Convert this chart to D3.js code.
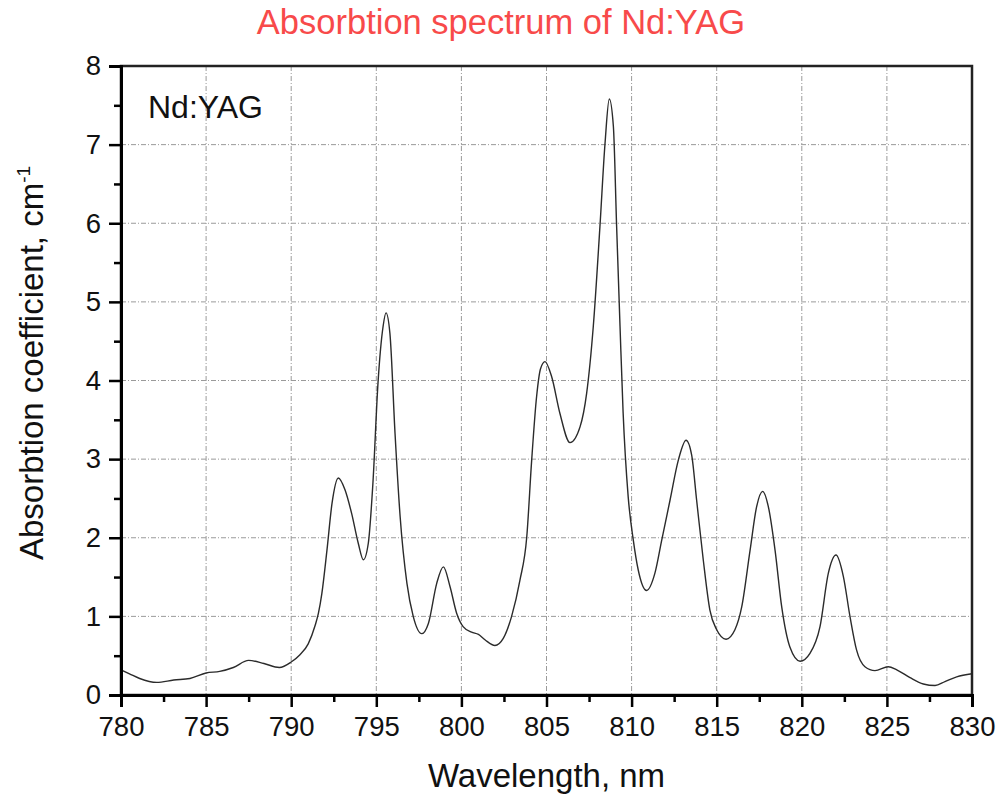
<!DOCTYPE html>
<html>
<head>
<meta charset="utf-8">
<script src="https://cdn.jsdelivr.net/npm/d3@7"></script>
<style>
  body { margin: 0; background: #fff; }
  text { font-family: "Liberation Sans", Arial, Helvetica, sans-serif; }
</style>
</head>
<body>
<div id="chart"></div>
<script>
// wavelength (nm) and absorption coefficient (cm^-1)
const wavelength = [
  780.0, 780.5, 781.1, 782.1, 783.1, 784.05, 785.0, 785.8, 786.6, 787.5,
  788.4, 789.3, 790.0, 790.5, 791.0, 791.4, 791.6, 791.8, 792.1, 792.4,
  792.77, 793.16, 793.55, 793.94, 794.24, 794.53, 794.8, 795.1, 795.4, 795.57,
  795.8, 796.1, 796.4, 796.8, 797.17, 797.67, 798.06, 798.55, 798.94, 799.33,
  799.72, 800.1, 800.6, 801.0, 801.4, 801.97, 802.46, 802.95, 803.44, 803.84,
  804.13, 804.42, 804.65, 804.91, 805.3, 805.79, 806.38, 806.97, 807.36, 807.75,
  808.14, 808.44, 808.69, 808.93, 809.12, 809.32, 809.5, 809.8, 810.1, 810.39,
  810.88, 811.37, 811.77, 812.26, 812.75, 813.2, 813.53, 813.82, 814.21, 814.6,
  815.0, 815.55, 816.07, 816.47, 816.96, 817.35, 817.7, 818.03, 818.43, 818.82,
  819.3, 819.9, 820.48, 821.07, 821.56, 822.01, 822.44, 822.83, 823.22, 823.71,
  824.3, 825.08, 825.58, 826.36, 827.14, 827.83, 828.41, 829.1, 830.0
];
const absorption = [
  0.32, 0.27, 0.21, 0.16, 0.19, 0.21, 0.28, 0.30, 0.35, 0.44,
  0.40, 0.35, 0.42, 0.51, 0.65, 0.88, 1.04, 1.29, 1.84, 2.44,
  2.76, 2.61, 2.31, 1.93, 1.72, 1.93, 2.69, 3.97, 4.69, 4.86,
  4.60, 3.33, 2.27, 1.42, 1.00, 0.78, 0.91, 1.42, 1.63, 1.38,
  1.04, 0.87, 0.80, 0.77, 0.70, 0.63, 0.72, 1.00, 1.46, 2.01,
  2.99, 3.80, 4.15, 4.24, 4.05, 3.58, 3.21, 3.41, 3.84, 4.69,
  5.96, 7.02, 7.58, 7.23, 5.96, 4.69, 3.60, 2.52, 1.97, 1.59,
  1.33, 1.55, 1.97, 2.48, 2.99, 3.24, 3.05, 2.48, 1.72, 1.08,
  0.83, 0.71, 0.83, 1.12, 1.84, 2.40, 2.59, 2.40, 1.84, 1.12,
  0.61, 0.43, 0.53, 0.87, 1.55, 1.78, 1.51, 1.00, 0.57, 0.36,
  0.31, 0.36, 0.32, 0.22, 0.14, 0.12, 0.17, 0.23, 0.27
];
const xTicks = [780, 785, 790, 795, 800, 805, 810, 815, 820, 825, 830];
const yTicks = [0, 1, 2, 3, 4, 5, 6, 7, 8];

const width = 1000;
const height = 798;
const margin = { top: 66, right: 28, bottom: 103, left: 121 };
const w = width - margin.left - margin.right;
const h = height - margin.top - margin.bottom;

const svg = d3.select("#chart")
              .append("svg")
              .attr("width", width)
              .attr("height", height);

const x = d3.scaleLinear().domain([780, 830]).range([0, w]);
const y = d3.scaleLinear().domain([0, 8]).range([h, 0]);

const g = svg.append("g")
             .attr("transform", `translate(${margin.left},${margin.top})`);

// grid, dash-dot
g.selectAll(".vgrid")
 .data(xTicks.slice(1, -1))
 .enter()
 .append("line")
 .attr("x1", d => x(d)).attr("x2", d => x(d))
 .attr("y1", 0).attr("y2", h)
 .attr("stroke", "#9a9a9a")
 .attr("stroke-width", 1)
 .attr("stroke-dasharray", "5,2,1,2");

g.selectAll(".hgrid")
 .data(yTicks.slice(1, -1))
 .enter()
 .append("line")
 .attr("x1", 0).attr("x2", w)
 .attr("y1", d => y(d)).attr("y2", d => y(d))
 .attr("stroke", "#9a9a9a")
 .attr("stroke-width", 1)
 .attr("stroke-dasharray", "5,2,1,2");

// spectrum
const points = wavelength.map((d, i) => [d, absorption[i]]);
const line = d3.line()
               .x(d => x(d[0]))
               .y(d => y(d[1]))
               .curve(d3.curveMonotoneX);

g.append("path")
 .datum(points)
 .attr("d", line)
 .attr("fill", "none")
 .attr("stroke", "#2b2b2b")
 .attr("stroke-width", 1.4);

// frame
g.append("rect")
 .attr("x", 0).attr("y", 0)
 .attr("width", w).attr("height", h)
 .attr("fill", "none")
 .attr("stroke", "#222")
 .attr("stroke-width", 2.5);

// axes
g.append("g")
 .attr("transform", `translate(0,${h})`)
 .call(d3.axisBottom(x).tickValues(xTicks).tickSize(12).tickPadding(9).tickFormat(d3.format("d")));
g.append("g")
 .attr("transform", `translate(0,${h})`)
 .call(d3.axisBottom(x).tickValues(d3.range(782.5, 830, 5)).tickSize(7).tickFormat(""))
 .call(a => a.select(".domain").remove());

g.append("g")
 .call(d3.axisLeft(y).tickValues(yTicks).tickSize(12).tickPadding(8).tickFormat(d3.format("d")));
g.append("g")
 .call(d3.axisLeft(y).tickValues(d3.range(0.5, 8, 1)).tickSize(7).tickFormat(""))
 .call(a => a.select(".domain").remove());

svg.selectAll(".domain").attr("stroke", "#000").attr("stroke-width", 3);
svg.selectAll(".tick line").attr("stroke", "#000").attr("stroke-width", 2.5);
svg.selectAll(".tick text")
   .attr("font-family", "Liberation Sans, Arial, sans-serif")
   .attr("font-size", 27.5)
   .attr("fill", "#111");

// labels
svg.append("text")
   .attr("x", 501)
   .attr("y", 34)
   .attr("text-anchor", "middle")
   .attr("font-size", 34.5)
   .attr("fill", "#f84a4a")
   .text("Absorbtion spectrum of Nd:YAG");

svg.append("text")
   .attr("x", margin.left + w / 2)
   .attr("y", 787)
   .attr("text-anchor", "middle")
   .attr("font-size", 33)
   .attr("fill", "#111")
   .text("Wavelength, nm");

const yl = svg.append("text")
              .attr("transform", "translate(43,363) rotate(-90)")
              .attr("text-anchor", "middle")
              .attr("font-size", 33)
              .attr("fill", "#111");
yl.append("tspan").text("Absorbtion coefficient, cm");
yl.append("tspan").attr("dy", -13).attr("font-size", 19).text("-1");

g.append("text")
 .attr("x", 27)
 .attr("y", 52)
 .attr("font-size", 32)
 .attr("fill", "#111")
 .text("Nd:YAG");
</script>
</body>
</html>
